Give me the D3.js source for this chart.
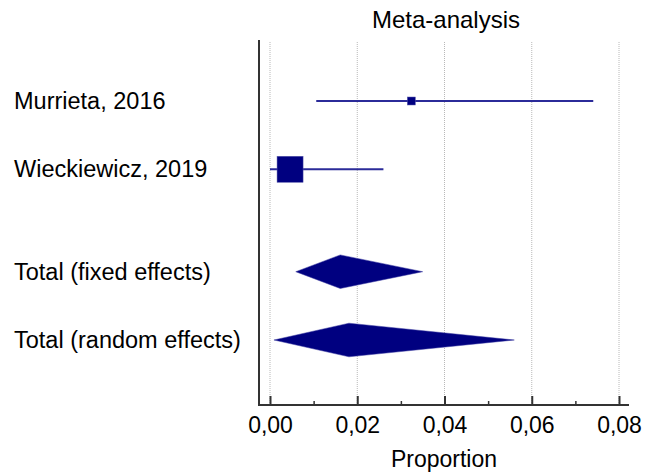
<!DOCTYPE html>
<html><head><meta charset="utf-8">
<script src="https://cdn.jsdelivr.net/npm/d3@7"></script>
<style>body{margin:0;background:#fff}svg{display:block}text{font-family:"Liberation Sans",Arial,sans-serif;fill:#000}</style>
</head><body>
<script>
const studies = ["Murrieta, 2016", "Wieckiewicz, 2019"];
const studyEst = [0.0324, 0.0046];
const studyLow = [0.0106, 0.0000];
const studyHigh = [0.0741, 0.0260];
const studyWeight = [8.6, 91.4];
const pooled = ["Total (fixed effects)", "Total (random effects)"];
const pooledEst = [0.0161, 0.0181];
const pooledLow = [0.0059, 0.0009];
const pooledHigh = [0.0350, 0.0560];
const xTicks = [0, 0.02, 0.04, 0.06, 0.08];
const xMinor = [0.01, 0.03, 0.05, 0.07];
const studyRow = [1, 2];
const pooledRow = [3.5, 4.5];

const W = 646, H = 474;
const svg = d3.select("body").append("svg").attr("width", W).attr("height", H);
const x = d3.scaleLinear().domain([0, 0.08]).range([270, 619]);
const y = d3.scaleLinear().domain([1, 4.5]).range([101, 340]);
const yTop = 40, yBot = 405, xLeft = 259, xRight = 629;
const fmt = d => d3.format(".2f")(d).replace(".", ",");
const FS = "23.5px";

// grid
svg.append("g").selectAll("line").data(xTicks).join("line")
  .attr("x1", d => x(d)).attr("x2", d => x(d)).attr("y1", yTop + 2).attr("y2", yBot)
  .attr("stroke", "#b8b8b8").attr("stroke-width", 1).attr("stroke-dasharray", "1,1");

// x axis
const xAxis = d3.axisBottom(x).tickValues(xTicks).tickSize(-9).tickFormat(fmt);
const gx = svg.append("g").attr("transform", `translate(0,${yBot})`).call(xAxis);
gx.select(".domain").remove();
gx.selectAll(".tick line").attr("stroke", "#333").attr("stroke-width", 2);
gx.selectAll(".tick text").attr("y", 27.5).attr("dy", 0).style("font-size", "23px")
  .style("font-family", '"Liberation Sans",Arial,sans-serif').attr("fill", "#000");
const gm = svg.append("g").attr("transform", `translate(0,${yBot})`)
  .call(d3.axisBottom(x).tickValues(xMinor).tickSize(-4).tickFormat(""));
gm.select(".domain").remove();
gm.selectAll(".tick line").attr("stroke", "#333").attr("stroke-width", 1.5);

// axis lines
svg.append("line").attr("x1", xLeft).attr("x2", xRight).attr("y1", yBot).attr("y2", yBot)
  .attr("stroke", "#333").attr("stroke-width", 2);
svg.append("line").attr("x1", xLeft).attr("x2", xLeft).attr("y1", yTop).attr("y2", yBot + 1)
  .attr("stroke", "#333").attr("stroke-width", 2);

// title & axis label
svg.append("text").attr("x", 446).attr("y", 28).attr("text-anchor", "middle")
  .style("font-size", "24px").text("Meta-analysis");
svg.append("text").attr("x", 444).attr("y", 467).attr("text-anchor", "middle")
  .style("font-size", "23px").text("Proportion");

// row labels
const labels = studies.map((s, i) => ({t: s, r: studyRow[i]}))
  .concat(pooled.map((s, i) => ({t: s, r: pooledRow[i]})));
svg.append("g").selectAll("text").data(labels).join("text")
  .attr("x", 14).attr("y", d => y(d.r) + 8).style("font-size", FS).text(d => d.t);

// study CIs & squares
const size = d3.scaleSqrt().domain([0, d3.max(studyWeight)]).range([0, 26]);
const sd = studies.map((s, i) => ({est: studyEst[i], lo: studyLow[i], hi: studyHigh[i], w: studyWeight[i], r: studyRow[i]}));
svg.append("g").selectAll("line").data(sd).join("line")
  .attr("x1", d => x(d.lo)).attr("x2", d => x(d.hi)).attr("y1", d => y(d.r)).attr("y2", d => y(d.r))
  .attr("stroke", "#2b2b99").attr("stroke-width", 2);
svg.append("g").selectAll("rect").data(sd).join("rect")
  .attr("x", d => x(d.est) - size(d.w) / 2).attr("y", d => y(d.r) - size(d.w) / 2)
  .attr("width", d => size(d.w)).attr("height", d => size(d.w))
  .attr("fill", "#000080").attr("stroke", "#5555aa").attr("stroke-width", 0.5);

// diamonds
const pd = pooled.map((s, i) => ({est: pooledEst[i], lo: pooledLow[i], hi: pooledHigh[i], r: pooledRow[i]}));
const halfH = 16.8;
svg.append("g").selectAll("path").data(pd).join("path")
  .attr("d", d => `M${x(d.lo)},${y(d.r)}L${x(d.est)},${y(d.r) - halfH}L${x(d.hi)},${y(d.r)}L${x(d.est)},${y(d.r) + halfH}Z`)
  .attr("fill", "#000080").attr("stroke", "#3a3aa0").attr("stroke-width", 0.5);
</script>
</body></html>
